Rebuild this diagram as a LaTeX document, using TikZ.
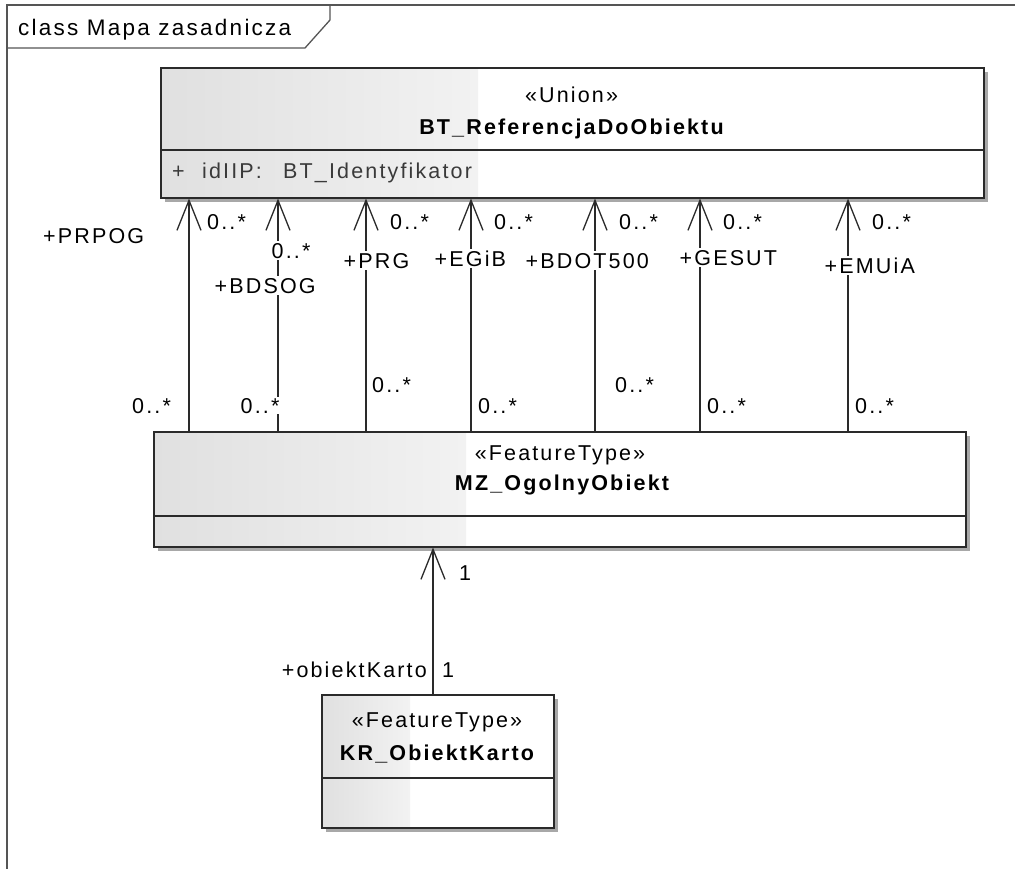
\documentclass[tikz,border=0pt]{standalone}
\usepackage{fontspec}
\setmainfont{Liberation Sans}[LetterSpace=10]
\usetikzlibrary{arrows.meta}
\definecolor{framec}{HTML}{555555}
\definecolor{boxc}{HTML}{2A2A2A}
\definecolor{shadowc}{HTML}{A8A8A8}
\definecolor{gradl}{HTML}{E0E0E0}
\definecolor{gradr}{HTML}{F2F2F2}
\definecolor{attrc}{HTML}{3A3A3A}
\tikzset{
  umlbox/.style={draw=boxc, line width=1.6pt, rectangle, inner sep=0pt, anchor=north west},
  divider/.style={draw=boxc, line width=1.6pt},
  assoc/.style={draw=boxc, line width=1.3pt, -{Straight Barb[length=30pt,width=24pt,line width=1.3pt]}},
  lbl/.style={inner sep=0pt, anchor=base west},
  lblw/.style={inner sep=1.5pt, fill=white, anchor=base west},
  ctxt/.style={inner sep=0pt, anchor=base},
}
\begin{document}
\begin{tikzpicture}[x=1pt,y=-1pt,font=\fontsize{21.5}{25}\selectfont]
\useasboundingbox (0,0) rectangle (1015,868);
\fill[white] (0,0) rectangle (1015,868);
% frame
\draw[framec, line width=1.3pt] (7,900) -- (7,5) -- (1030,5);
\draw[framec, line width=1.3pt] (7,48) -- (305,48) -- (330,20) -- (330,5);
\node[lbl, font=\fontsize{22.5}{26}\selectfont] (title) at (18,35) {class Mapa zasadnicza};

% top box
\fill[shadowc] (165,72) rectangle (988,202);
\fill[white] (160,67) rectangle (983,197);
\shade[left color=gradl, right color=gradr] (160,67) rectangle (478,197);
\node[umlbox, minimum width=823pt, minimum height=130pt] (top) at (160,67) {};
\draw[divider] (160,150) -- (983,150);
\node[ctxt] (topst) at (571.5,102) {«Union»};
\node[ctxt] (topname) at (571.5,134) {\bfseries BT\_ReferencjaDoObiektu};
\node[lbl, text=attrc] (aplus) at (172,178) {+};
\node[lbl, text=attrc] (aname) at (202,178) {idIIP:};
\node[lbl, text=attrc] (atype) at (283,178) {BT\_Identyfikator};

% middle box
\fill[shadowc] (158,436) rectangle (970,551);
\fill[white] (153,431) rectangle (965,546);
\shade[left color=gradl, right color=gradr] (153,431) rectangle (466,546);
\node[umlbox, minimum width=812pt, minimum height=115pt] (mid) at (153,431) {};
\draw[divider] (153,516) -- (965,516);
\node[ctxt] (midst) at (560,460) {«FeatureType»};
\node[ctxt] (midname) at (562,490) {\bfseries MZ\_OgolnyObiekt};

% bottom box
\fill[shadowc] (326,699) rectangle (558,832);
\fill[white] (321,694) rectangle (553,827);
\shade[left color=gradl, right color=gradr] (321,694) rectangle (410,827);
\node[umlbox, minimum width=232pt, minimum height=133pt] (bot) at (321,694) {};
\draw[divider] (321,778) -- (553,778);
\node[ctxt] (botst) at (437,727) {«FeatureType»};
\node[ctxt] (botname) at (437,760) {\bfseries KR\_ObiektKarto};

% connectors
\foreach \xx in {189,278,366,471,595,700,848}{
  \draw[assoc] (\xx,0 |- mid.north) -- (\xx,0 |- top.south);
}
\draw[assoc] (433,0 |- bot.north) -- (433,0 |- mid.south);

% role names and multiplicities (top ends)
\node[lbl] (m1) at (207,229) {0..*};
\node[lblw] (m2) at (270,258) {0..*};
\node[lbl] (m3) at (390,229) {0..*};
\node[lbl] (m4) at (494,229) {0..*};
\node[lbl] (m5) at (619,229) {0..*};
\node[lbl] (m6) at (723,229) {0..*};
\node[lbl] (m7) at (872,229) {0..*};
\node[lbl] (r1) at (43,243) {+PRPOG};
\node[lblw] (r2) at (213,293) {+BDSOG};
\node[lblw] (r3) at (342,268) {+PRG};
\node[lblw] (r4) at (433,266) {+EGiB};
\node[lblw] (r5) at (524,268) {+BDOT500};
\node[lblw] (r6) at (678,265) {+GESUT};
\node[lblw] (r7) at (823,273) {+EMUiA};
% multiplicities (bottom ends)
\node[lbl] (s1) at (132,413) {0..*};
\node[lblw, inner sep=0.5pt] (s2) at (240,413) {0..*};
\node[lbl] (s3) at (372,392) {0..*};
\node[lbl] (s4) at (478,413) {0..*};
\node[lbl] (s5) at (615,392) {0..*};
\node[lbl] (s6) at (707,413) {0..*};
\node[lbl] (s7) at (855,413) {0..*};
% lower association
\node[lbl] (k1) at (459,580) {1};
\node[inner sep=0pt, anchor=base east] (k2) at (427,677) {+obiektKarto};
\node[lbl] (k3) at (442,677) {1};
\end{tikzpicture}
\end{document}
